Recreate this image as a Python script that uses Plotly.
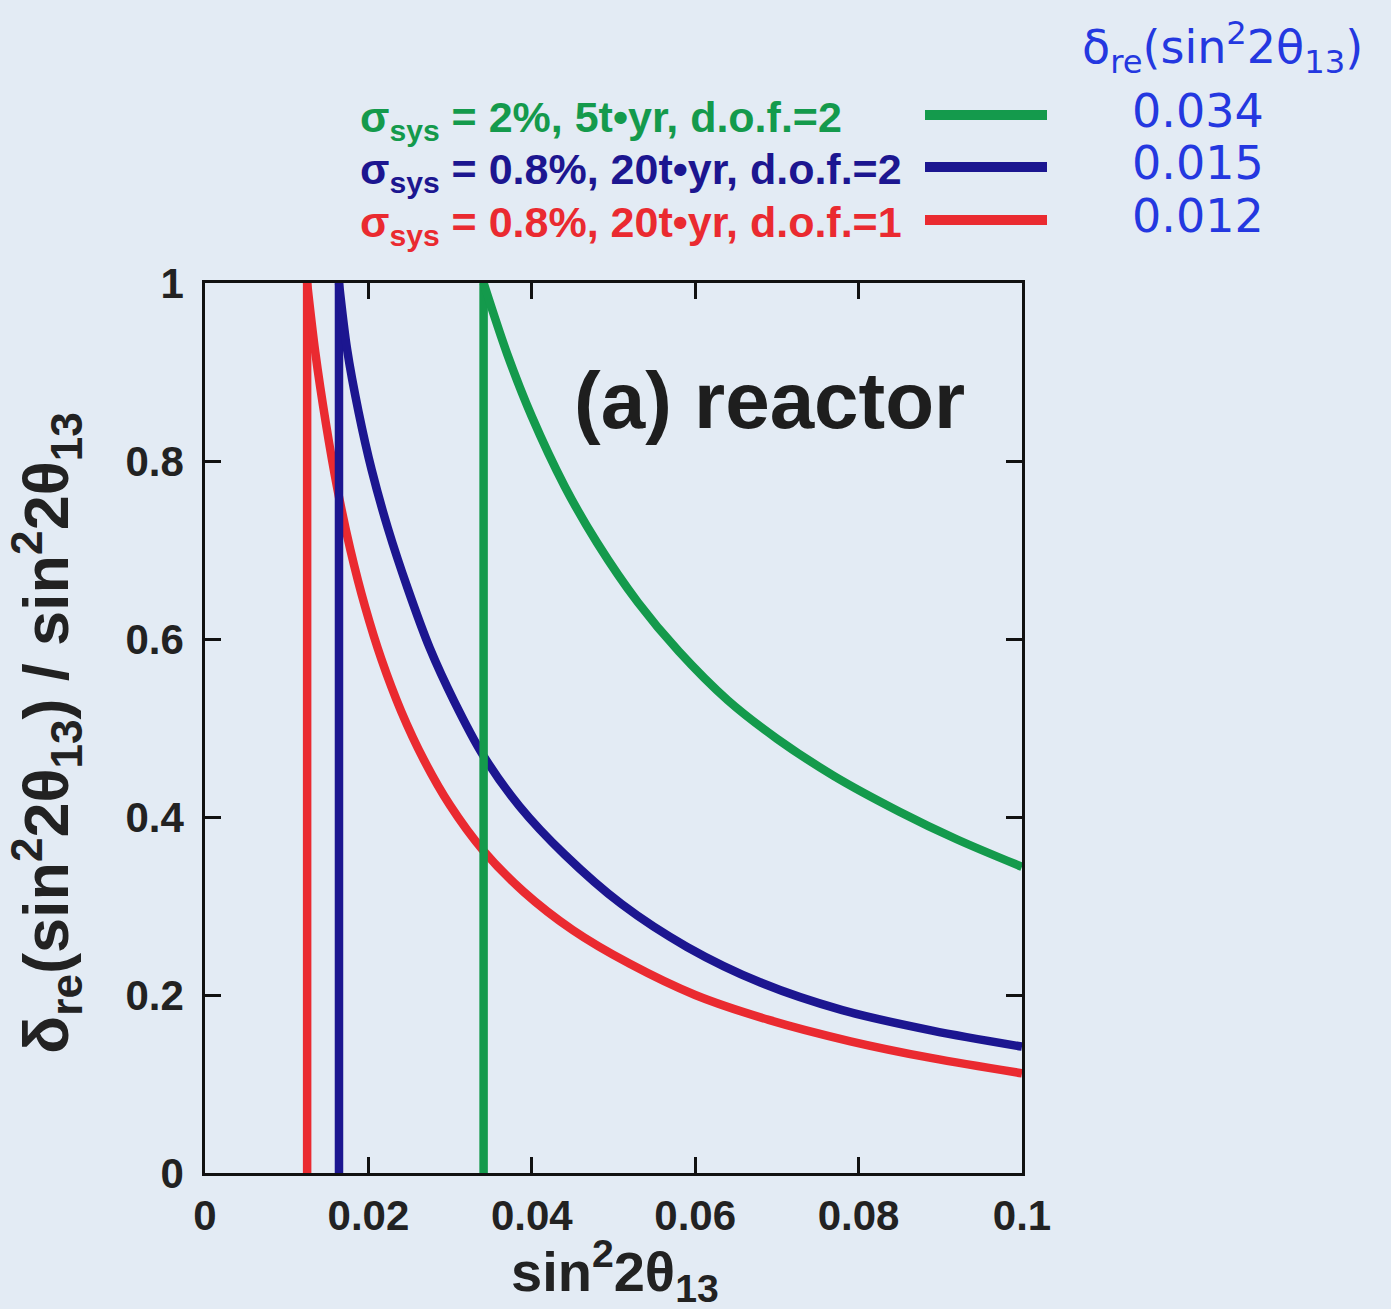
import plotly.graph_objects as go

# ---- data ----
red_x = [0.0125, 0.0125, 0.0135, 0.0148, 0.0162, 0.0178, 0.0196, 0.0216, 0.0240, 0.0268,
         0.0300, 0.0340, 0.0390, 0.0450, 0.0520, 0.0600, 0.0690, 0.0790, 0.0890, 0.1000]
red_y = [0.0, 1.0, 0.922, 0.842, 0.769, 0.700, 0.636, 0.577, 0.519, 0.464,
         0.413, 0.363, 0.316, 0.273, 0.235, 0.200, 0.172, 0.148, 0.129, 0.112]

blue_x = [0.0164, 0.0164, 0.0174, 0.0188, 0.0204, 0.0224, 0.0248, 0.0275, 0.0305, 0.0340,
          0.0385, 0.0440, 0.0510, 0.0590, 0.0680, 0.0780, 0.0890, 0.1000]
blue_y = [0.0, 1.0, 0.925, 0.855, 0.790, 0.724, 0.657, 0.590, 0.530, 0.470,
          0.412, 0.358, 0.302, 0.254, 0.214, 0.183, 0.160, 0.142]

green_x = [0.0341, 0.0341, 0.0370, 0.0400, 0.0440, 0.0480, 0.0530, 0.0580, 0.0640, 0.0700,
           0.0770, 0.0850, 0.0920, 0.1000]
green_y = [0.0, 1.0, 0.920, 0.850, 0.772, 0.708, 0.641, 0.586, 0.531, 0.488,
           0.446, 0.406, 0.375, 0.344]

x_ticks = [0, 0.02, 0.04, 0.06, 0.08, 0.1]
x_tick_labels = ["0", "0.02", "0.04", "0.06", "0.08", "0.1"]
y_ticks = [0, 0.2, 0.4, 0.6, 0.8, 1]
y_tick_labels = ["0", "0.2", "0.4", "0.6", "0.8", "1"]

legend_labels = [
    "σ<sub>sys</sub> = 2%, 5t•yr, d.o.f.=2",
    "σ<sub>sys</sub> = 0.8%, 20t•yr, d.o.f.=2",
    "σ<sub>sys</sub> = 0.8%, 20t•yr, d.o.f.=1",
]
note_values = ["0.034", "0.015", "0.012"]

GREEN = "#149a4c"
BLUE = "#1c1690"
RED = "#ea2a30"
INK = "#2438e0"
BG = "#e3ebf4"
FONT = "Liberation Sans"

fig = go.Figure()
for xs, ys, col in [(red_x, red_y, RED), (blue_x, blue_y, BLUE), (green_x, green_y, GREEN)]:
    # vertical threshold segment
    fig.add_trace(go.Scatter(x=xs[:2], y=ys[:2], mode="lines",
                             line=dict(color=col, width=8.5),
                             showlegend=False, hoverinfo="skip"))
    # smooth falling curve
    fig.add_trace(go.Scatter(x=xs[1:], y=ys[1:], mode="lines",
                             line=dict(color=col, width=8.5, shape="spline", smoothing=0.9),
                             showlegend=False, hoverinfo="skip"))

W, H = 1391, 1309
L, R, T, B = 205, 1022, 283, 1173


def px(xp):
    return (xp - L) / (R - L)


def py(yp):
    return (B - yp) / (B - T)


fig.update_layout(
    width=W, height=H,
    margin=dict(l=L, r=W - R, t=T, b=H - B, pad=0),
    paper_bgcolor=BG, plot_bgcolor=BG,
    font=dict(family=FONT, color="#222222", size=42, weight="bold"),
    xaxis=dict(range=[0, 0.1], tickvals=x_ticks, ticktext=x_tick_labels,
               ticks="inside", ticklen=16, tickwidth=2.5, tickcolor="#111",
               showline=True, linewidth=2.5, linecolor="#111", mirror="ticks",
               showgrid=False, zeroline=False, ticklabelstandoff=4,
               tickfont=dict(family=FONT, size=42, color="#222", weight="bold")),
    yaxis=dict(range=[0, 1], tickvals=y_ticks, ticktext=y_tick_labels,
               ticks="inside", ticklen=16, tickwidth=2.5, tickcolor="#111",
               showline=True, linewidth=2.5, linecolor="#111", mirror="ticks",
               showgrid=False, zeroline=False, ticklabelstandoff=10,
               tickfont=dict(family=FONT, size=42, color="#222", weight="bold")),
)

ann = []
# axis titles
ann.append(dict(text="sin<sup>2</sup>2θ<sub>13</sub>", x=px(615), y=py(1271),
                xref="paper", yref="paper", showarrow=False, xanchor="center", yanchor="middle",
                font=dict(family=FONT, size=56, color="#222", weight="bold")))
ann.append(dict(text="δ<sub>re</sub>(sin<sup>2</sup>2θ<sub>13</sub>) / sin<sup>2</sup>2θ<sub>13</sub>",
                x=px(46), y=py(733), textangle=-90,
                xref="paper", yref="paper", showarrow=False, xanchor="center", yanchor="middle",
                font=dict(family=FONT, size=63, color="#222", weight="bold")))
# panel label
ann.append(dict(text="(a) reactor", x=px(769), y=py(400),
                xref="paper", yref="paper", showarrow=False, xanchor="center", yanchor="middle",
                font=dict(family=FONT, size=80, color="#1e1e1e", weight="bold")))

# legend
leg_y = [115, 167, 220]
leg_cols = [GREEN, BLUE, RED]
shapes = []
for lab, yy, col in zip(legend_labels, leg_y, leg_cols):
    ann.append(dict(text=lab, x=px(358), y=py(yy + 5), xref="paper", yref="paper",
                    showarrow=False, xanchor="left", yanchor="middle",
                    font=dict(family=FONT, size=43, color=col, weight="bold")))
    shapes.append(dict(type="line", xref="paper", yref="paper",
                       x0=px(925), x1=px(1047), y0=py(yy), y1=py(yy),
                       line=dict(color=col, width=10)))

# handwritten notes
ann.append(dict(text="δ<sub>re</sub>(sin<sup>2</sup>2θ<sub>13</sub>)", x=px(1222), y=py(48),
                xref="paper", yref="paper", showarrow=False, xanchor="center", yanchor="middle",
                font=dict(family="DejaVu Sans", size=46, color=INK, weight="normal")))
for v, yy in zip(note_values, [111, 163, 216]):
    ann.append(dict(text=v, x=px(1198), y=py(yy), xref="paper", yref="paper",
                    showarrow=False, xanchor="center", yanchor="middle",
                    font=dict(family="DejaVu Sans", size=46, color=INK, weight="normal")))

fig.update_layout(annotations=ann, shapes=shapes)
fig.write_html("out.html")
